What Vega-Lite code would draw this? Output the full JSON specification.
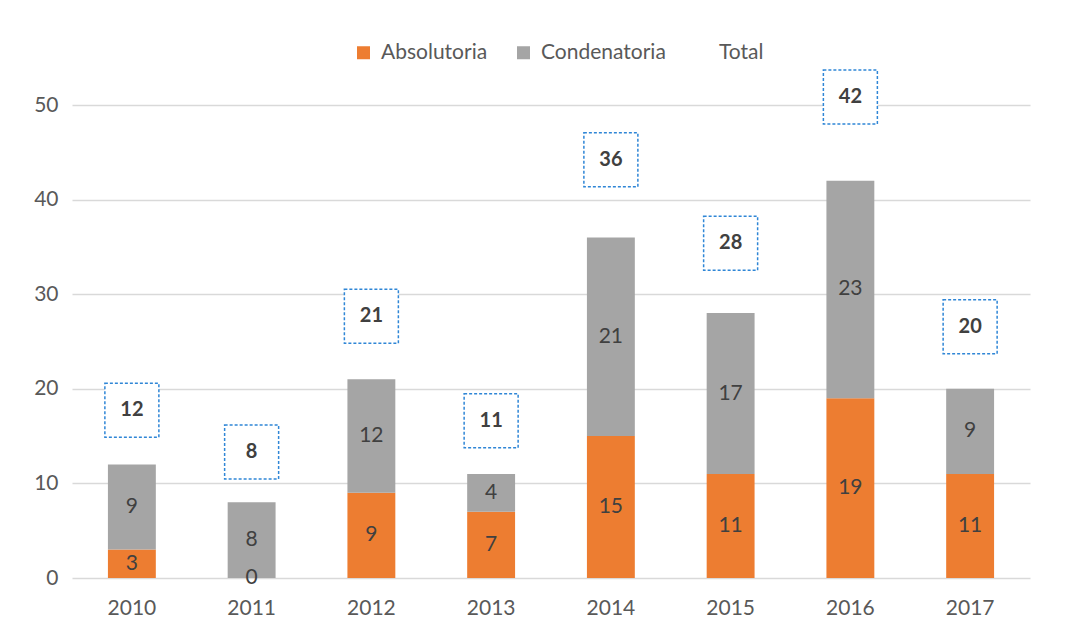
{
  "$schema": "https://vega.github.io/schema/vega-lite/v6.json",
  "width": 958,
  "height": 473,
  "autosize": {"type": "none"},
  "padding": {"left": 72, "top": 105, "right": 51, "bottom": 54},
  "background": "white",
  "config": {
    "font": "Lato",
    "view": {"stroke": null},
    "axis": {"labelFont": "Lato", "labelFontSize": 21, "labelColor": "#595959", "domain": false, "ticks": false, "title": null}
  },
  "datasets": {
    "segments": [
      {"year": "2010", "type": "Absolutoria", "value": 3},
      {"year": "2010", "type": "Condenatoria", "value": 9},
      {"year": "2011", "type": "Absolutoria", "value": 0},
      {"year": "2011", "type": "Condenatoria", "value": 8},
      {"year": "2012", "type": "Absolutoria", "value": 9},
      {"year": "2012", "type": "Condenatoria", "value": 12},
      {"year": "2013", "type": "Absolutoria", "value": 7},
      {"year": "2013", "type": "Condenatoria", "value": 4},
      {"year": "2014", "type": "Absolutoria", "value": 15},
      {"year": "2014", "type": "Condenatoria", "value": 21},
      {"year": "2015", "type": "Absolutoria", "value": 11},
      {"year": "2015", "type": "Condenatoria", "value": 17},
      {"year": "2016", "type": "Absolutoria", "value": 19},
      {"year": "2016", "type": "Condenatoria", "value": 23},
      {"year": "2017", "type": "Absolutoria", "value": 11},
      {"year": "2017", "type": "Condenatoria", "value": 9}
    ],
    "totals": [
      {"year": "2010", "total": 12},
      {"year": "2011", "total": 8},
      {"year": "2012", "total": 21},
      {"year": "2013", "total": 11},
      {"year": "2014", "total": 36},
      {"year": "2015", "total": 28},
      {"year": "2016", "total": 42},
      {"year": "2017", "total": 20}
    ]
  },
  "layer": [
    {
      "data": {"name": "segments"},
      "mark": {"type": "bar"},
      "encoding": {
        "x": {
          "field": "year", "type": "ordinal",
          "scale": {"paddingInner": 0.6, "paddingOuter": 0.3},
          "axis": {"labelAngle": 0, "labelPadding": 19}
        },
        "y": {
          "field": "value", "type": "quantitative", "stack": "zero",
          "scale": {"domain": [0, 50]},
          "axis": {"values": [0, 10, 20, 30, 40, 50], "labelPadding": 14, "grid": true, "gridColor": "#D9D9D9", "gridWidth": 1.5}
        },
        "color": {
          "field": "type", "type": "nominal",
          "scale": {"domain": ["Absolutoria", "Condenatoria", "Total"], "range": ["#ED7D31", "#A5A5A5", "rgba(255,255,255,0)"]},
          "legend": {
            "title": null, "orient": "none", "legendX": 281, "legendY": -63,
            "direction": "horizontal", "symbolType": "square", "symbolSize": 169,
            "labelFont": "Lato", "labelFontSize": 21, "labelColor": "#595959",
            "labelOffset": 7, "columnPadding": 25, "padding": 0
          }
        },
        "order": {"field": "type", "sort": "ascending"}
      }
    },
    {
      "data": {"name": "segments"},
      "transform": [
        {"stack": "value", "groupby": ["year"], "sort": [{"field": "type", "order": "ascending"}], "as": ["v0", "v1"]},
        {"fold": ["v0", "v1"], "as": ["edge", "pos"]},
        {"aggregate": [{"op": "mean", "field": "pos", "as": "mid"}], "groupby": ["year", "type", "value"]}
      ],
      "mark": {"type": "text", "fontSize": 21, "color": "#404040", "baseline": "middle", "align": "center", "font": "Lato"},
      "encoding": {
        "x": {"field": "year", "type": "ordinal"},
        "y": {"field": "mid", "type": "quantitative", "scale": {"domain": [0, 50]}, "axis": null},
        "text": {"field": "value", "type": "quantitative"}
      }
    },
    {
      "data": {"name": "totals"},
      "mark": {"type": "point", "shape": "square", "size": 2916, "filled": false, "fill": "white", "fillOpacity": 1, "stroke": "#2F86D6", "strokeWidth": 1.5, "strokeDash": [3, 2], "opacity": 1},
      "encoding": {
        "x": {"field": "year", "type": "ordinal"},
        "y": {"field": "total", "type": "quantitative", "scale": {"domain": [-4.07, 41.24]}, "axis": null}
      }
    },
    {
      "data": {"name": "totals"},
      "mark": {"type": "text", "fontSize": 20, "fontWeight": "bold", "color": "#404040", "baseline": "middle", "align": "center", "font": "Lato"},
      "encoding": {
        "x": {"field": "year", "type": "ordinal"},
        "y": {"field": "total", "type": "quantitative", "scale": {"domain": [-4.07, 41.24]}, "axis": null},
        "text": {"field": "total", "type": "quantitative"}
      }
    }
  ],
  "resolve": {"scale": {"y": "independent"}}
}
